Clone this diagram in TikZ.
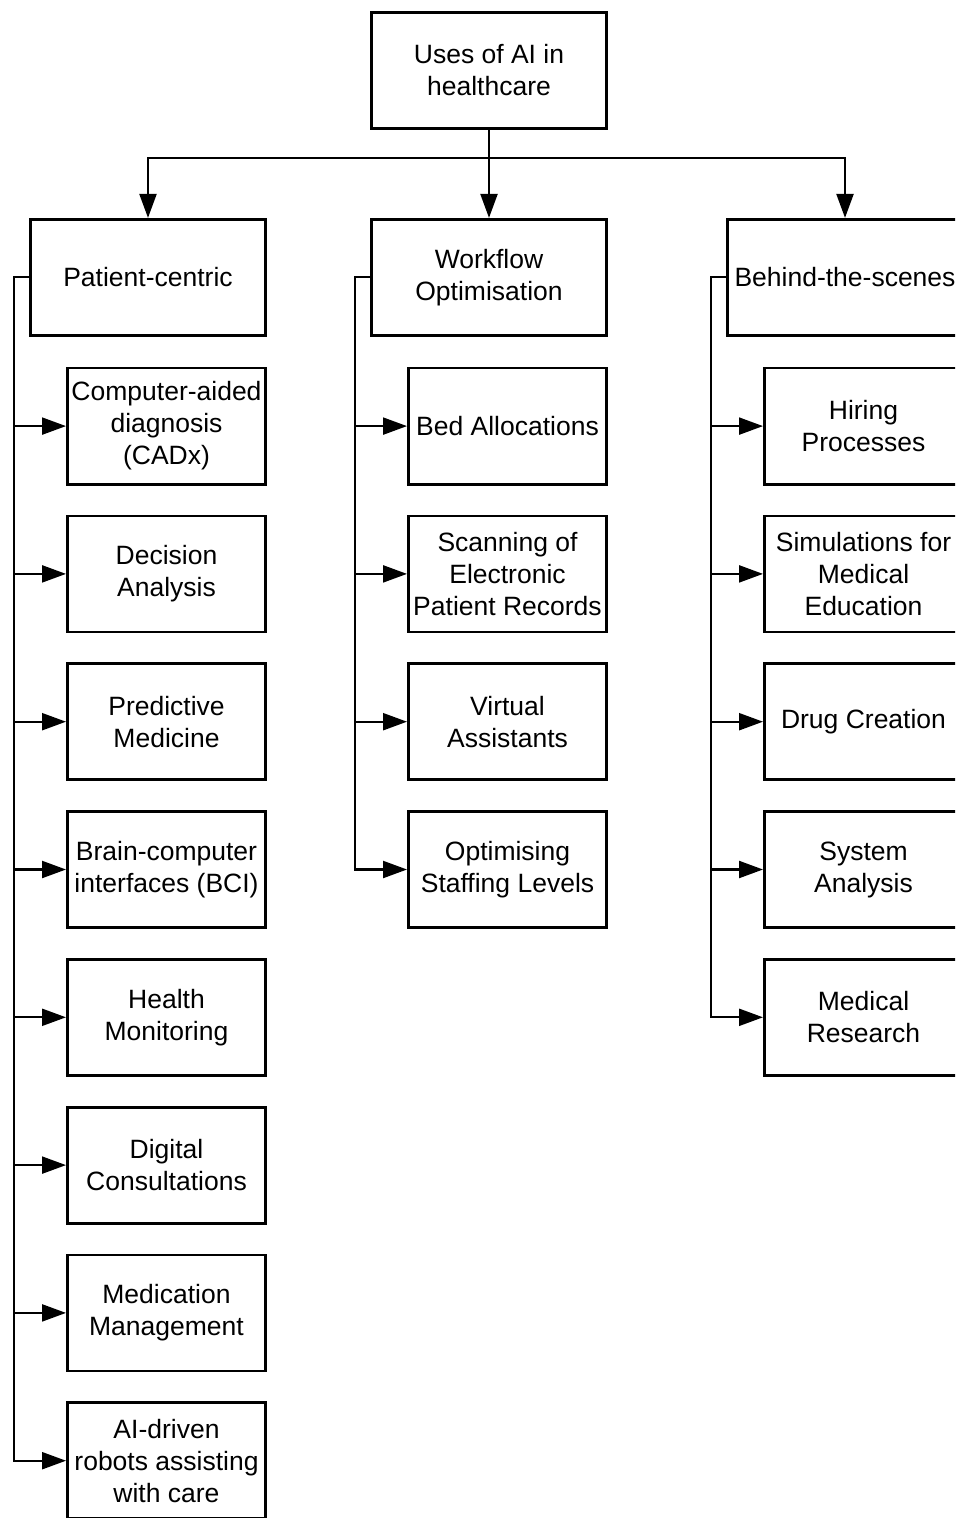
\documentclass[tikz,border=0pt]{standalone}
\usepackage{fontspec}
\setmainfont{Liberation Sans}
\usetikzlibrary{arrows.meta, positioning}
\tikzstyle{block} = [rectangle, draw, line width=1.4pt, minimum height=58pt, minimum width=117.6pt, inner sep=1pt, align=center, font=\fontsize{13.25}{16}\selectfont]
\tikzstyle{subblock} = [block, minimum width=99.1pt]
\tikzstyle{arrow} = [-{Triangle[length=12pt, width=8.5pt]}, line width=1.1pt]

\begin{document}
\begin{tikzpicture}[x=0.5pt, y=-0.5pt, node distance=14.5pt]
\useasboundingbox (0,0) rectangle (955,1518);
\clip (0,0) rectangle (955,1518);

\node[block] (root) at (489,70.5) {Uses of AI in\\healthcare};
\node[block, below=44pt of root] (workflow) {Workflow\\Optimisation};
\node[block, left=51.5pt of workflow] (patient) {Patient-centric};
\node[block, right=59pt of workflow] (behind) {Behind-the-scenes};

% patient-centric
\node[subblock, below=15pt of patient.south east, anchor=north east] (cadx) {Computer-aided\\diagnosis\\(CADx)};
\node[subblock, below=of cadx] (decision) {Decision\\Analysis};
\node[subblock, below=of decision] (predictive) {Predictive\\Medicine};
\node[subblock, below=of predictive] (bci) {Brain-computer\\interfaces (BCI)};
\node[subblock, below=of bci] (monitoring) {Health\\Monitoring};
\node[subblock, below=of monitoring] (consult) {Digital\\Consultations};
\node[subblock, below=of consult] (medication) {Medication\\Management};
\node[subblock, below=of medication] (robots) {AI-driven\\robots assisting\\with care};

% workflow
\node[subblock, below=15pt of workflow.south east, anchor=north east] (beds) {Bed Allocations};
\node[subblock, below=of beds] (records) {Scanning of\\Electronic\\Patient Records};
\node[subblock, below=of records] (assistants) {Virtual\\Assistants};
\node[subblock, below=of assistants] (staffing) {Optimising\\Staffing Levels};

% behind the scenes
\node[subblock, below=15pt of behind.south east, anchor=north east] (hiring) {Hiring\\Processes};
\node[subblock, below=of hiring] (simulations) {Simulations for\\Medical\\Education};
\node[subblock, below=of simulations] (drugs) {Drug Creation};
\node[subblock, below=of drugs] (system) {System\\Analysis};
\node[subblock, below=of system] (research) {Medical\\Research};

\draw[arrow] (root.south) -- ++(0,28) -| (patient.north);
\draw[arrow] (root.south) -- (workflow.north);
\draw[arrow] (root.south) -- ++(0,28) -| (behind.north);

\draw[arrow] (patient.west) -- ++(-15,0) |- (cadx.west);
\draw[arrow] (patient.west) -- ++(-15,0) |- (decision.west);
\draw[arrow] (patient.west) -- ++(-15,0) |- (predictive.west);
\draw[arrow] (patient.west) -- ++(-15,0) |- (bci.west);
\draw[arrow] (patient.west) -- ++(-15,0) |- (monitoring.west);
\draw[arrow] (patient.west) -- ++(-15,0) |- (consult.west);
\draw[arrow] (patient.west) -- ++(-15,0) |- (medication.west);
\draw[arrow] (patient.west) -- ++(-15,0) |- (robots.west);

\draw[arrow] (workflow.west) -- ++(-15,0) |- (beds.west);
\draw[arrow] (workflow.west) -- ++(-15,0) |- (records.west);
\draw[arrow] (workflow.west) -- ++(-15,0) |- (assistants.west);
\draw[arrow] (workflow.west) -- ++(-15,0) |- (staffing.west);

\draw[arrow] (behind.west) -- ++(-15,0) |- (hiring.west);
\draw[arrow] (behind.west) -- ++(-15,0) |- (simulations.west);
\draw[arrow] (behind.west) -- ++(-15,0) |- (drugs.west);
\draw[arrow] (behind.west) -- ++(-15,0) |- (system.west);
\draw[arrow] (behind.west) -- ++(-15,0) |- (research.west);

\end{tikzpicture}
\end{document}
